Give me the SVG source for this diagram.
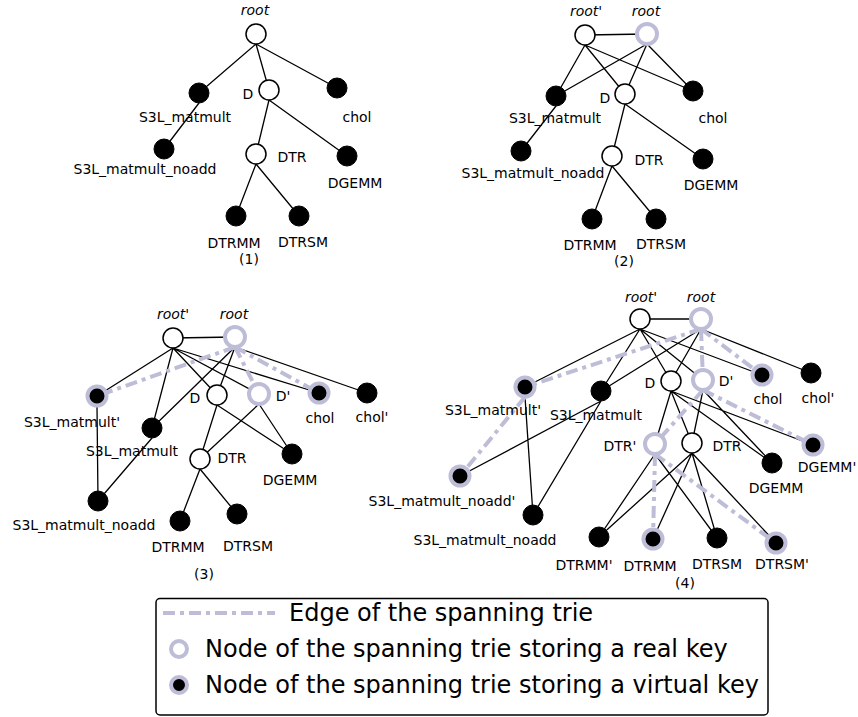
<svg xmlns="http://www.w3.org/2000/svg" width="858" height="717" viewBox="0 0 858 717">
<style>
text{font-family:"DejaVu Sans","Liberation Sans",sans-serif;font-size:14px;fill:#000;text-anchor:middle}
.i{font-style:italic}
.lg{font-size:24px;text-anchor:start}
.n{fill:#fff;stroke:#000;stroke-width:1.5}
.f{fill:#000;stroke:#000;stroke-width:1}
.r{fill:#fff;stroke:#bdbdd7;stroke-width:4}
.v{fill:#000;stroke:#bdbdd7;stroke-width:4}
.e{stroke:#000;stroke-width:1.3;fill:none}
.s{stroke:#bdbdd7;stroke-width:4;fill:none;stroke-dasharray:12,5,4,5}
</style>
<rect width="858" height="717" fill="#fff"/>
<g id="connectors">
<g class="e">
<!-- (1) -->
<path d="M256,44L199,93M256,44L269,90M256,44L337,88M199,103L164,149M269,100L256,154M269,100L347,156M256,164L236,216M256,164L299,216"/>
<!-- (2) -->
<path d="M585,35L647,34M585,45L556,96M585,45L625,94M585,45L693,91M647,44L556,96M647,44L625,94M647,44L693,91M556,106L521,151M625,104L612,156M625,104L703,159M612,166L592,219M612,166L656,219"/>
<!-- (3) -->
<path d="M173,338L235,337M173,348L97,396M173,348L152,428M173,348L217,395M173,348L259,394M173,348L319,393M235,347L152,428M235,347L217,395M235,347L367,393M97,406L98,501M152,438L98,501M217,405L200,459M217,405L292,454M259,404L200,459M259,404L292,454M200,469L180,521M200,469L237,514"/>
<!-- (4) -->
<path d="M640,319L701,319M640,329L525,387M640,329L601,391M640,329L671,381M640,329L703,380M640,329L762,375M701,329L601,391M701,329L671,381M701,329L811,373M525,397L533,515M601,401L533,515M601,401L460,476M671,391L655,444M671,391L692,443M671,391L772,463M671,391L813,445M703,390L692,443M703,390L772,463M655,454L599,537M655,454L717,538M692,453L599,537M692,453L653,539M692,453L717,538M692,453L776,543"/>
</g>
<g class="s">
<path d="M235,347L97,396M235,347L259,394M235,347L319,393"/>
<path d="M701,329L525,387M701,329L703,380M701,329L762,375M525,397L460,476M703,390L655,444M703,390L813,445M655,454L653,539M655,454L776,543"/>
</g>
</g>
<!-- (1) -->
<g id="p1-root"><circle class="n" cx="256" cy="34" r="10"/><text class="i" x="255" y="15">root</text></g>
<g id="p1-s3l"><circle class="f" cx="199" cy="93" r="10"/><text x="185" y="122">S3L_matmult</text></g>
<g id="p1-D"><circle class="n" cx="269" cy="90" r="10"/><text x="248" y="99">D</text></g>
<g id="p1-chol"><circle class="f" cx="337" cy="88" r="10"/><text x="357" y="122">chol</text></g>
<g id="p1-noadd"><circle class="f" cx="164" cy="149" r="10"/><text x="145" y="174">S3L_matmult_noadd</text></g>
<g id="p1-DTR"><circle class="n" cx="256" cy="154" r="10"/><text x="292" y="162">DTR</text></g>
<g id="p1-DGEMM"><circle class="f" cx="347" cy="156" r="10"/><text x="355" y="188">DGEMM</text></g>
<g id="p1-DTRMM"><circle class="f" cx="236" cy="216" r="10"/><text x="234" y="248">DTRMM</text></g>
<g id="p1-DTRSM"><circle class="f" cx="299" cy="216" r="10"/><text x="303" y="247">DTRSM</text></g>
<text x="249" y="264">(1)</text>
<!-- (2) -->
<g id="p2-rootp"><circle class="n" cx="585" cy="35" r="10"/><text class="i" x="586" y="16">root'</text></g>
<g id="p2-root"><circle class="r" cx="647" cy="34" r="10"/><text class="i" x="646" y="16">root</text></g>
<g id="p2-s3l"><circle class="f" cx="556" cy="96" r="10"/><text x="555" y="123">S3L_matmult</text></g>
<g id="p2-D"><circle class="n" cx="625" cy="94" r="10"/><text x="605" y="103">D</text></g>
<g id="p2-chol"><circle class="f" cx="693" cy="91" r="10"/><text x="713" y="123">chol</text></g>
<g id="p2-noadd"><circle class="f" cx="521" cy="151" r="10"/><text x="533" y="178">S3L_matmult_noadd</text></g>
<g id="p2-DTR"><circle class="n" cx="612" cy="156" r="10"/><text x="649" y="165">DTR</text></g>
<g id="p2-DGEMM"><circle class="f" cx="703" cy="159" r="10"/><text x="711" y="190">DGEMM</text></g>
<g id="p2-DTRMM"><circle class="f" cx="592" cy="219" r="10"/><text x="590" y="250">DTRMM</text></g>
<g id="p2-DTRSM"><circle class="f" cx="656" cy="219" r="10"/><text x="661" y="249">DTRSM</text></g>
<text x="624" y="266">(2)</text>
<!-- (3) -->
<g id="p3-rootp"><circle class="n" cx="173" cy="338" r="10"/><text class="i" x="173" y="319">root'</text></g>
<g id="p3-root"><circle class="r" cx="235" cy="337" r="10"/><text class="i" x="234" y="319">root</text></g>
<g id="p3-s3lp"><circle class="v" cx="97" cy="396" r="9.5"/><text x="72" y="427">S3L_matmult'</text></g>
<g id="p3-s3l"><circle class="f" cx="152" cy="428" r="10"/><text x="132" y="456">S3L_matmult</text></g>
<g id="p3-D"><circle class="n" cx="217" cy="395" r="10"/><text x="195" y="403">D</text></g>
<g id="p3-Dp"><circle class="r" cx="259" cy="394" r="10"/><text x="283" y="401">D'</text></g>
<g id="p3-chol"><circle class="v" cx="319" cy="393" r="9.5"/><text x="320" y="423">chol</text></g>
<g id="p3-cholp"><circle class="f" cx="367" cy="393" r="10"/><text x="372" y="422">chol'</text></g>
<g id="p3-DTR"><circle class="n" cx="200" cy="459" r="10"/><text x="232" y="463">DTR</text></g>
<g id="p3-DGEMM"><circle class="f" cx="292" cy="454" r="10"/><text x="290" y="485">DGEMM</text></g>
<g id="p3-noadd"><circle class="f" cx="98" cy="501" r="10"/><text x="84" y="530">S3L_matmult_noadd</text></g>
<g id="p3-DTRMM"><circle class="f" cx="180" cy="521" r="10"/><text x="178" y="552">DTRMM</text></g>
<g id="p3-DTRSM"><circle class="f" cx="237" cy="514" r="10"/><text x="248" y="551">DTRSM</text></g>
<text x="204" y="579">(3)</text>
<!-- (4) -->
<g id="p4-rootp"><circle class="n" cx="640" cy="319" r="10"/><text class="i" x="641" y="302">root'</text></g>
<g id="p4-root"><circle class="r" cx="701" cy="319" r="10"/><text class="i" x="701" y="302">root</text></g>
<g id="p4-s3lp"><circle class="v" cx="525" cy="387" r="9.5"/><text x="493" y="415">S3L_matmult'</text></g>
<g id="p4-s3l"><circle class="f" cx="601" cy="391" r="10"/><text x="596" y="420">S3L_matmult</text></g>
<g id="p4-D"><circle class="n" cx="671" cy="381" r="10"/><text x="650" y="388">D</text></g>
<g id="p4-Dp"><circle class="r" cx="703" cy="380" r="10"/><text x="726" y="386">D'</text></g>
<g id="p4-chol"><circle class="v" cx="762" cy="375" r="9.5"/><text x="768" y="404">chol</text></g>
<g id="p4-cholp"><circle class="f" cx="811" cy="373" r="10"/><text x="818" y="403">chol'</text></g>
<g id="p4-noaddp"><circle class="v" cx="460" cy="476" r="9.5"/><text x="442" y="506">S3L_matmult_noadd'</text></g>
<g id="p4-noadd"><circle class="f" cx="533" cy="515" r="10"/><text x="485" y="545">S3L_matmult_noadd</text></g>
<g id="p4-DTRp"><circle class="r" cx="655" cy="444" r="10"/><text x="620" y="451">DTR'</text></g>
<g id="p4-DTR"><circle class="n" cx="692" cy="443" r="10"/><text x="727" y="451">DTR</text></g>
<g id="p4-DGEMMp"><circle class="v" cx="813" cy="445" r="9.5"/><text x="827" y="472">DGEMM'</text></g>
<g id="p4-DGEMM"><circle class="f" cx="772" cy="463" r="10"/><text x="776" y="493">DGEMM</text></g>
<g id="p4-DTRMMp"><circle class="f" cx="599" cy="537" r="10"/><text x="584" y="570">DTRMM'</text></g>
<g id="p4-DTRMM"><circle class="v" cx="653" cy="539" r="9.5"/><text x="650" y="571">DTRMM</text></g>
<g id="p4-DTRSM"><circle class="f" cx="717" cy="538" r="10"/><text x="717" y="569">DTRSM</text></g>
<g id="p4-DTRSMp"><circle class="v" cx="776" cy="543" r="9.5"/><text x="782" y="569">DTRSM'</text></g>
<text x="685" y="588">(4)</text>
<!-- legend -->
<g id="legend">
<rect x="156" y="598.5" width="612" height="116.5" rx="4" fill="#fff" stroke="#000" stroke-width="1.5"/>
<line class="s" x1="163" y1="613" x2="275" y2="613"/>
<text class="lg" x="289" y="621">Edge of the spanning trie</text>
<circle class="r" cx="179" cy="649" r="8"/>
<text class="lg" x="205" y="657">Node of the spanning trie storing a real key</text>
<circle class="v" cx="179" cy="685" r="8"/>
<text class="lg" x="205" y="693">Node of the spanning trie storing a virtual key</text>
</g>
</svg>
